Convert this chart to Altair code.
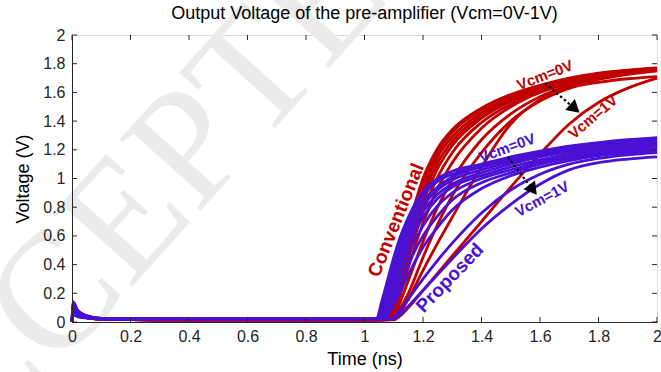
import altair as alt
import pandas as pd

# ---------------- data ----------------
time_ns = [0, 0.004, 0.02, 0.05, 0.1, 0.3, 1.0, 1.04, 1.06, 1.08, 1.1, 1.12, 1.15,
           1.2, 1.25, 1.3, 1.4, 1.5, 1.6, 1.7, 1.8, 1.9, 2.0]

conv_1 = [0.0, 0.07, 0.045, 0.03, 0.02, 0.015, 0.015, 0.015, 0.02, 0.07, 0.20, 0.38, 0.65, 1.00, 1.21, 1.34, 1.49, 1.585, 1.65, 1.70, 1.735, 1.755, 1.77]
conv_2 = [0.0, 0.07, 0.045, 0.03, 0.02, 0.015, 0.015, 0.015, 0.02, 0.06, 0.18, 0.35, 0.61, 0.96, 1.18, 1.32, 1.48, 1.575, 1.645, 1.695, 1.73, 1.752, 1.768]
conv_3 = [0.0, 0.07, 0.045, 0.03, 0.02, 0.015, 0.015, 0.015, 0.02, 0.05, 0.16, 0.32, 0.57, 0.92, 1.15, 1.29, 1.46, 1.565, 1.64, 1.69, 1.725, 1.75, 1.765]
conv_4 = [0.0, 0.07, 0.045, 0.03, 0.02, 0.015, 0.015, 0.015, 0.02, 0.04, 0.14, 0.29, 0.53, 0.88, 1.11, 1.26, 1.44, 1.555, 1.63, 1.685, 1.72, 1.745, 1.762]
conv_5 = [0.0, 0.07, 0.045, 0.03, 0.02, 0.015, 0.015, 0.015, 0.015, 0.03, 0.12, 0.26, 0.49, 0.83, 1.07, 1.23, 1.42, 1.54, 1.62, 1.68, 1.715, 1.742, 1.76]
conv_6 = [0.0, 0.07, 0.045, 0.03, 0.02, 0.015, 0.015, 0.015, 0.015, 0.025, 0.10, 0.22, 0.44, 0.77, 1.01, 1.18, 1.39, 1.52, 1.61, 1.67, 1.71, 1.74, 1.758]
conv_7 = [0.0, 0.07, 0.045, 0.03, 0.02, 0.015, 0.015, 0.015, 0.015, 0.02, 0.08, 0.18, 0.38, 0.69, 0.93, 1.11, 1.35, 1.50, 1.60, 1.66, 1.705, 1.735, 1.755]
conv_8 = [0.0, 0.07, 0.045, 0.03, 0.02, 0.015, 0.015, 0.015, 0.015, 0.02, 0.05, 0.13, 0.29, 0.56, 0.80, 0.99, 1.27, 1.45, 1.57, 1.645, 1.695, 1.73, 1.752]
conv_9 = [0.0, 0.07, 0.045, 0.03, 0.02, 0.015, 0.015, 0.015, 0.015, 0.015, 0.03, 0.09, 0.20, 0.45, 0.68, 0.88, 1.18, 1.40, 1.54, 1.63, 1.69, 1.725, 1.75]
conv_10 = [0.0, 0.07, 0.045, 0.03, 0.02, 0.015, 0.015, 0.015, 0.015, 0.015, 0.02, 0.06, 0.16, 0.36, 0.55, 0.73, 1.08, 1.38, 1.55, 1.63, 1.67, 1.695, 1.71]
conv_11 = [0.0, 0.07, 0.045, 0.03, 0.02, 0.015, 0.015, 0.015, 0.015, 0.015, 0.015, 0.04, 0.10, 0.22, 0.34, 0.46, 0.70, 0.94, 1.17, 1.38, 1.53, 1.63, 1.70]

prop_1 = [0.0, 0.14, 0.08, 0.045, 0.025, 0.02, 0.02, 0.02, 0.15, 0.30, 0.45, 0.58, 0.73, 0.91, 1.00, 1.05, 1.10, 1.15, 1.19, 1.225, 1.25, 1.27, 1.285]
prop_2 = [0.0, 0.13, 0.075, 0.043, 0.025, 0.02, 0.02, 0.02, 0.13, 0.27, 0.42, 0.55, 0.70, 0.88, 0.98, 1.03, 1.09, 1.14, 1.18, 1.215, 1.24, 1.26, 1.275]
prop_3 = [0.0, 0.12, 0.07, 0.04, 0.025, 0.02, 0.02, 0.02, 0.11, 0.24, 0.38, 0.51, 0.66, 0.84, 0.94, 1.01, 1.08, 1.13, 1.17, 1.205, 1.23, 1.25, 1.265]
prop_4 = [0.0, 0.11, 0.065, 0.04, 0.025, 0.02, 0.02, 0.02, 0.09, 0.21, 0.34, 0.47, 0.62, 0.81, 0.92, 0.99, 1.06, 1.115, 1.16, 1.195, 1.22, 1.24, 1.255]
prop_5 = [0.0, 0.10, 0.06, 0.035, 0.025, 0.02, 0.02, 0.02, 0.07, 0.18, 0.30, 0.42, 0.58, 0.77, 0.89, 0.96, 1.04, 1.10, 1.15, 1.185, 1.21, 1.23, 1.245]
prop_6 = [0.0, 0.09, 0.055, 0.035, 0.022, 0.02, 0.02, 0.02, 0.05, 0.14, 0.25, 0.37, 0.53, 0.73, 0.86, 0.94, 1.02, 1.08, 1.13, 1.17, 1.20, 1.22, 1.235]
prop_7 = [0.0, 0.08, 0.05, 0.03, 0.022, 0.02, 0.02, 0.02, 0.04, 0.11, 0.20, 0.31, 0.47, 0.67, 0.81, 0.90, 1.00, 1.06, 1.115, 1.155, 1.185, 1.21, 1.225]
prop_8 = [0.0, 0.07, 0.045, 0.03, 0.022, 0.02, 0.02, 0.02, 0.03, 0.07, 0.15, 0.25, 0.40, 0.60, 0.74, 0.85, 0.97, 1.04, 1.10, 1.14, 1.17, 1.195, 1.21]
prop_9 = [0.0, 0.06, 0.04, 0.03, 0.022, 0.02, 0.02, 0.02, 0.02, 0.05, 0.12, 0.20, 0.33, 0.52, 0.66, 0.78, 0.93, 1.02, 1.08, 1.125, 1.16, 1.18, 1.195]
prop_10 = [0.0, 0.06, 0.04, 0.03, 0.022, 0.02, 0.02, 0.02, 0.02, 0.02, 0.03, 0.08, 0.16, 0.30, 0.43, 0.55, 0.76, 0.92, 1.03, 1.10, 1.14, 1.165, 1.18]
prop_11 = [0.0, 0.05, 0.035, 0.028, 0.022, 0.02, 0.02, 0.02, 0.02, 0.02, 0.02, 0.05, 0.11, 0.22, 0.33, 0.44, 0.65, 0.82, 0.96, 1.06, 1.11, 1.135, 1.15]

conventional_curves = [conv_1, conv_2, conv_3, conv_4, conv_5, conv_6, conv_7, conv_8, conv_9, conv_10, conv_11]
proposed_curves = [prop_1, prop_2, prop_3, prop_4, prop_5, prop_6, prop_7, prop_8, prop_9, prop_10, prop_11]

axis_ticks = [0, 0.2, 0.4, 0.6, 0.8, 1.0, 1.2, 1.4, 1.6, 1.8, 2.0]

title_text = ["Output Voltage of the pre-amplifier (Vcm=0V-1V)"]

label_texts = ["Conventional", "Proposed", "Vcm=0V", "Vcm=1V", "Vcm=0V", "Vcm=1V"]
label_t = [1.108, 1.292, 1.617, 1.781, 1.487, 1.607]
label_v = [0.71, 0.307, 1.72, 1.429, 1.213, 0.857]
label_group = ["Conventional", "Proposed", "Conventional", "Conventional", "Proposed", "Proposed"]

arrow_t_start = [1.617, 1.49]
arrow_v_start = [1.665, 1.15]
arrow_t_end = [1.719, 1.576]
arrow_v_end = [1.487, 0.921]

watermark_text = ["ACCEPTED"]
watermark_t = [0.267]
watermark_v = [0.906]

# ---------------- build tables ----------------
rows = []
for gi, (grp, curves) in enumerate([("Conventional", conventional_curves), ("Proposed", proposed_curves)]):
    for ci, vals in enumerate(curves):
        for k, (t, v) in enumerate(zip(time_ns, vals)):
            rows.append({"t": t, "v": v, "curve": f"{grp}{ci}", "group": grp, "k": k})
curves_df = pd.DataFrame(rows)

labels_df = pd.DataFrame({"text": label_texts, "t": label_t, "v": label_v, "group": label_group})
arrows_df = pd.DataFrame({"t": arrow_t_start, "v": arrow_v_start, "t2": arrow_t_end, "v2": arrow_v_end})
ticks_df = pd.DataFrame({"tick": axis_ticks})
wm_df = pd.DataFrame({"text": watermark_text, "t": watermark_t, "v": watermark_v})
title_df = pd.DataFrame({"text": title_text})

W, H = 585, 287
RED = "#C00000"
BLUE = "#4A10D4"
AX = "#262626"
FONT = "Liberation Sans"

xs = alt.Scale(domain=[0, 2], nice=False)
ys = alt.Scale(domain=[0, 2], nice=False)
col_scale = alt.Scale(domain=["Conventional", "Proposed"], range=[RED, BLUE])

x_axis = alt.Axis(values=axis_ticks, format="~g", ticks=False, grid=False, labelFontSize=16,
                  labelFont=FONT, labelColor=AX, domainColor=AX, labelPadding=6, zindex=1,
                  labelFlush=False, labelOverlap=False, title="Time (ns)", titleFont=FONT,
                  titleFontSize=18, titleFontWeight="normal", titleColor="#000000", titlePadding=6)
y_axis = alt.Axis(values=axis_ticks, format="~g", ticks=False, grid=False, labelFontSize=16,
                  labelFont=FONT, labelColor=AX, domainColor=AX, labelPadding=7, zindex=1,
                  labelFlush=False, labelOverlap=False, title="Voltage (V)", titleFont=FONT,
                  titleFontSize=18, titleFontWeight="normal", titleColor="#000000", titlePadding=10)


def X(field):
    return alt.X(field, scale=xs, axis=x_axis)


def Y(field):
    return alt.Y(field, scale=ys, axis=y_axis)


watermark = alt.Chart(wm_df).mark_text(font="Liberation Serif", fontSize=165, color="#ebebeb",
                                       angle=312, align="center", baseline="middle").encode(
    x=X("t:Q"), y=Y("v:Q"), text="text:N")

lines = alt.Chart(curves_df).mark_line(strokeWidth=2.8, interpolate="monotone").encode(
    x=X("t:Q"), y=Y("v:Q"),
    color=alt.Color("group:N", scale=col_scale, legend=None),
    detail="curve:N",
    order="k:Q",
)

red_lines = lines.transform_filter(alt.datum.group == "Conventional")
blue_lines = lines.transform_filter(alt.datum.group == "Proposed")

big_labels = alt.Chart(labels_df).transform_filter(
    (alt.datum.text == "Conventional") | (alt.datum.text == "Proposed")
).mark_text(font=FONT, fontWeight="bold", fontSize=19, align="center", baseline="middle").encode(
    x=X("t:Q"), y=Y("v:Q"), text="text:N",
    color=alt.Color("group:N", scale=col_scale, legend=None),
    angle=alt.Angle("text:N", scale=alt.Scale(domain=["Conventional", "Proposed"], range=[292, 314]), legend=None),
)


def small_label(idx, ang):
    sub = labels_df.iloc[[idx]]
    return alt.Chart(sub).mark_text(font=FONT, fontWeight="bold", fontSize=15, align="center",
                                    baseline="middle", angle=ang,
                                    color=RED if label_group[idx] == "Conventional" else BLUE).encode(
        x=X("t:Q"), y=Y("v:Q"), text="text:N")


arrow_lines = alt.Chart(arrows_df).mark_rule(color="black", strokeWidth=2.2, strokeDash=[2.5, 2.5]).encode(
    x=X("t:Q"), y=Y("v:Q"), x2="t2:Q", y2="v2:Q")

head_red = alt.Chart(arrows_df.iloc[[0]]).mark_point(shape="triangle-up", filled=True, color="black",
                                                    size=210, angle=131, opacity=1).encode(
    x=X("t2:Q"), y=Y("v2:Q"))
head_blue = alt.Chart(arrows_df.iloc[[1]]).mark_point(shape="triangle-up", filled=True, color="black",
                                                     size=210, angle=143, opacity=1).encode(
    x=X("t2:Q"), y=Y("v2:Q"))

tick_bottom = alt.Chart(ticks_df).mark_rule(color=AX, strokeWidth=1).encode(
    x=X("tick:Q"), y=alt.value(H), y2=alt.value(H - 5))
tick_top = alt.Chart(ticks_df).mark_rule(color=AX, strokeWidth=1).encode(
    x=X("tick:Q"), y=alt.value(0), y2=alt.value(5))
tick_left = alt.Chart(ticks_df).mark_rule(color=AX, strokeWidth=1).encode(
    y=Y("tick:Q"), x=alt.value(0), x2=alt.value(5))
tick_right = alt.Chart(ticks_df).mark_rule(color=AX, strokeWidth=1).encode(
    y=Y("tick:Q"), x=alt.value(W), x2=alt.value(W - 5))

title_mark = alt.Chart(title_df).mark_text(font=FONT, fontSize=18, color="#000000", align="center",
                                           baseline="middle").encode(
    x=alt.value(W / 2), y=alt.value(-21), text="text:N")

chart = alt.layer(
    watermark, red_lines, blue_lines, big_labels,
    small_label(2, 339), small_label(3, 320), small_label(4, 340), small_label(5, 332),
    arrow_lines, head_red, head_blue,
    tick_bottom, tick_top, tick_left, tick_right, title_mark,
).properties(
    width=W, height=H,
    autosize=alt.AutoSizeParams(type="none"),
    padding={"left": 72, "top": 35, "right": 4, "bottom": 50},
).configure_view(stroke=AX, strokeWidth=1).configure(background="white")

chart.save("out.html", embed_options={"renderer": "svg", "actions": False})
